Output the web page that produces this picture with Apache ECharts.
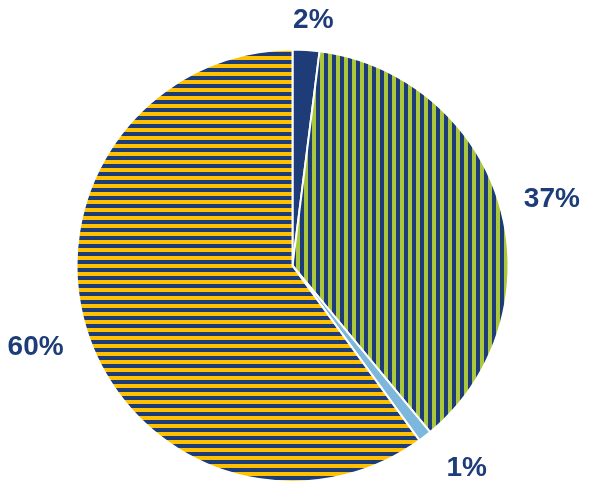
<!DOCTYPE html>
<html>
<head>
<meta charset="utf-8">
<script src="https://cdn.jsdelivr.net/npm/echarts@6/dist/echarts.min.js"></script>
<style>html,body{margin:0;padding:0;background:#fff;}#c{width:599px;height:483px;}</style>
</head>
<body>
<div id="c"></div>
<script>
const categories = ['A', 'B', 'C', 'D'];
const values = [2, 37, 1, 60];
const labels = ['2%', '37%', '1%', '60%'];

const DARK = '#1D3C78';
function stripe(c1, c2, vertical) {
  const p = 8;
  const cv = document.createElement('canvas');
  cv.width = vertical ? p : 4;
  cv.height = vertical ? 4 : p;
  const g = cv.getContext('2d');
  g.fillStyle = c1; g.fillRect(0, 0, cv.width, cv.height);
  g.fillStyle = c2;
  if (vertical) g.fillRect(p / 2, 0, p / 2, cv.height);
  else g.fillRect(0, p / 2, cv.width, p / 2);
  return { image: cv, repeat: 'repeat' };
}
const fills = [DARK, stripe('#A9C63C', DARK, true), '#7DB8DC', stripe('#FFC000', DARK, false)];
const labelShift = [[4, 22], [2, 8], [10, -9], [-2, -1]];

const chart = echarts.init(document.getElementById('c'), null, { renderer: 'canvas' });
const center = [292.5, 265.6];
chart.setOption({
  animation: false,
  series: [
    {
      type: 'pie', center: center, radius: [0, 216], startAngle: 90, clockwise: true,
      silent: true, label: { show: false }, labelLine: { show: false },
      itemStyle: { borderColor: '#ffffff', borderWidth: 2 },
      data: values.map((v, i) => ({ name: categories[i], value: v, itemStyle: { color: fills[i] } }))
    },
    {
      type: 'pie', center: center, radius: [0, 530], startAngle: 90, clockwise: true,
      silent: true, avoidLabelOverlap: false, z: 5,
      itemStyle: { color: 'rgba(0,0,0,0)' },
      labelLine: { show: false },
      label: {
        show: true, position: 'inside',
        formatter: p => labels[p.dataIndex],
        color: DARK, fontSize: 28, fontWeight: 'bold',
        fontFamily: '"Liberation Sans", Arial, sans-serif'
      },
      labelLayout: p => ({ dx: labelShift[p.dataIndex][0], dy: labelShift[p.dataIndex][1] }),
      data: values.map((v, i) => ({ name: categories[i], value: v }))
    }
  ]
});
</script>
</body>
</html>
